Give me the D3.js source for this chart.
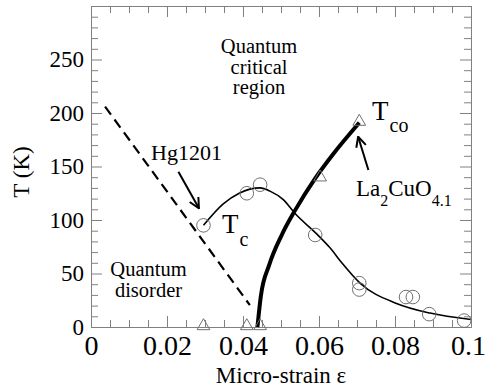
<!DOCTYPE html>
<html>
<head>
<meta charset="utf-8">
<script src="https://cdn.jsdelivr.net/npm/d3@7"></script>
<style>
  body { margin: 0; background: #fff; }
  svg { display: block; font-family: "Liberation Serif", "Times New Roman", serif; }
  .frame path.domain { stroke: #808080; }
  .frame line { stroke: #808080; }
  .frame text { fill: #000; }
</style>
</head>
<body>
<div id="chart"></div>
<script>
// measured Tc (circles)
const tcStrain = [0.0296, 0.041, 0.0445, 0.059, 0.0706, 0.0706, 0.0829, 0.0847, 0.089, 0.0982];
const tcTemp = [95, 125, 133, 86, 41, 35, 28, 28, 12, 6];

// measured Tco (triangles)
const tcoStrain = [0.0296, 0.041, 0.0445, 0.0603, 0.0706];
const tcoTemp = [0, 0, 0, 139, 191];

// Tc guide curve
const tcCurveStrain = [0.0296, 0.0348, 0.039, 0.0445, 0.0471, 0.0506, 0.0537, 0.0594, 0.0629, 0.066, 0.0708, 0.0804, 0.0892, 0.1];
const tcCurveTemp = [95, 115, 125, 130, 127, 119, 106, 87, 74, 60, 41, 22, 13, 7];

// Tco guide curve (thick)
const tcoCurveStrain = [0.0438, 0.0447, 0.0469, 0.0502, 0.0537, 0.059, 0.0638, 0.0706];
const tcoCurveTemp = [0, 29, 58, 86, 109, 139, 162, 191];

// dashed quantum-disorder border
const dashStrain = [0.0037, 0.0418];
const dashTemp = [206, 20.5];

// arrows: [tail, tip]
const hgArrow = [[0.023, 145], [0.0284, 111]];
const laArrow = [[0.073, 146.7], [0.0703, 177.8]];

const xMajor = [0, 0.02, 0.04, 0.06, 0.08, 0.1];
const xLabels = ['0', '0.02', '0.04', '0.06', '0.08', '0.1'];
const yMajor = [0, 50, 100, 150, 200, 250, 300];
const yLabels = ['0', '50', '100', '150', '200', '250', ''];

const width = 488;
const height = 391;
const padL = 91, padR = 471, padT = 6, padB = 327;

const x = d3.scaleLinear().domain([0, 0.1]).range([padL, padR]);
const y = d3.scaleLinear().domain([0, 300]).range([padB, padT]);

const svg = d3.select('#chart').append('svg')
  .attr('width', width)
  .attr('height', height);

svg.append('rect').attr('width', width).attr('height', height).attr('fill', '#fff');

const xMinor = d3.range(0, 0.1001, 0.005).filter(v => !xMajor.some(m => Math.abs(m - v) < 1e-6));
const yMinor = d3.range(0, 301, 10).filter(v => v % 50 !== 0);

// axes (ticks point inward)
const fmtX = v => xLabels[xMajor.findIndex(m => Math.abs(m - v) < 1e-6)];
const fmtY = v => yLabels[yMajor.indexOf(v)];

svg.append('g').attr('class', 'frame')
  .attr('transform', `translate(0,${padB})`)
  .call(d3.axisBottom(x).tickValues(xMajor).tickFormat(fmtX).tickSize(-11).tickSizeOuter(0).tickPadding(8))
  .call(g => g.selectAll('text').attr('font-size', 28).attr('font-family', 'Liberation Serif, serif'))
  .call(g => g.selectAll('.tick:last-of-type text').attr('dx', -3));
svg.append('g').attr('class', 'frame')
  .attr('transform', `translate(0,${padB})`)
  .call(d3.axisBottom(x).tickValues(xMinor).tickFormat('').tickSize(-7).tickSizeOuter(0));

svg.append('g').attr('class', 'frame')
  .attr('transform', `translate(0,${padT})`)
  .call(d3.axisTop(x).tickValues(xMajor).tickFormat('').tickSize(-11).tickSizeOuter(0));
svg.append('g').attr('class', 'frame')
  .attr('transform', `translate(0,${padT})`)
  .call(d3.axisTop(x).tickValues(xMinor).tickFormat('').tickSize(-7).tickSizeOuter(0));

svg.append('g').attr('class', 'frame')
  .attr('transform', `translate(${padL},0)`)
  .call(d3.axisLeft(y).tickValues(yMajor).tickFormat(fmtY).tickSize(-11).tickSizeOuter(0).tickPadding(7))
  .call(g => g.selectAll('text').attr('font-size', 23).attr('font-family', 'Liberation Serif, serif'));
svg.append('g').attr('class', 'frame')
  .attr('transform', `translate(${padL},0)`)
  .call(d3.axisLeft(y).tickValues(yMinor).tickFormat('').tickSize(-7).tickSizeOuter(0));

svg.append('g').attr('class', 'frame')
  .attr('transform', `translate(${padR},0)`)
  .call(d3.axisRight(y).tickValues(yMajor).tickFormat('').tickSize(-11).tickSizeOuter(0));
svg.append('g').attr('class', 'frame')
  .attr('transform', `translate(${padR},0)`)
  .call(d3.axisRight(y).tickValues(yMinor).tickFormat('').tickSize(-7).tickSizeOuter(0));

// axis titles
svg.append('text')
  .attr('x', (padL + padR) / 2)
  .attr('y', 383)
  .attr('text-anchor', 'middle')
  .attr('font-size', 23)
  .text('Micro-strain ε');

svg.append('text')
  .attr('transform', 'translate(29,172) rotate(-90)')
  .attr('text-anchor', 'middle')
  .attr('font-size', 23)
  .text('T (K)');

// lines
const line = d3.line().x(d => x(d[0])).y(d => y(d[1])).curve(d3.curveMonotoneX);

svg.append('path')
  .datum(dashStrain.map((v, i) => [v, dashTemp[i]]))
  .attr('d', d3.line().x(d => x(d[0])).y(d => y(d[1])))
  .attr('fill', 'none')
  .attr('stroke', '#000')
  .attr('stroke-width', 2.2)
  .attr('stroke-dasharray', '10,6');

svg.append('path')
  .datum(tcCurveStrain.map((v, i) => [v, tcCurveTemp[i]]))
  .attr('d', line)
  .attr('fill', 'none')
  .attr('stroke', '#000')
  .attr('stroke-width', 1.6);

svg.append('path')
  .datum(tcoCurveStrain.map((v, i) => [v, tcoCurveTemp[i]]))
  .attr('d', line)
  .attr('fill', 'none')
  .attr('stroke', '#000')
  .attr('stroke-width', 4);

// markers
svg.append('g').selectAll('circle')
  .data(tcStrain.map((v, i) => [v, tcTemp[i]]))
  .join('circle')
  .attr('cx', d => x(d[0]))
  .attr('cy', d => y(d[1]))
  .attr('r', 6.8)
  .attr('fill', 'none')
  .attr('stroke', '#707070')
  .attr('stroke-width', 1);

const tri = d3.symbol().type(d3.symbolTriangle).size(70);
svg.append('g').selectAll('path')
  .data(tcoStrain.map((v, i) => [v, tcoTemp[i]]))
  .join('path')
  .attr('d', tri)
  .attr('transform', d => `translate(${x(d[0])},${y(d[1]) - 1})`)
  .attr('fill', 'none')
  .attr('stroke', '#707070')
  .attr('stroke-width', 1);

// arrows
svg.append('defs').append('marker')
  .attr('id', 'head')
  .attr('viewBox', '0 0 12 12')
  .attr('refX', 11)
  .attr('refY', 6)
  .attr('markerWidth', 12)
  .attr('markerHeight', 12)
  .attr('markerUnits', 'userSpaceOnUse')
  .attr('orient', 'auto')
  .append('path')
  .attr('d', 'M1,1 L11,6 L1,11')
  .attr('fill', 'none')
  .attr('stroke', '#000')
  .attr('stroke-width', 2);

[hgArrow, laArrow].forEach(a => {
  svg.append('line')
    .attr('x1', x(a[0][0])).attr('y1', y(a[0][1]))
    .attr('x2', x(a[1][0])).attr('y2', y(a[1][1]))
    .attr('stroke', '#000')
    .attr('stroke-width', 2)
    .attr('marker-end', 'url(#head)');
});

// annotations
const crit = svg.append('text').attr('text-anchor', 'middle').attr('font-size', 20.5);
['Quantum', 'critical', 'region'].forEach((t, i) => {
  crit.append('tspan').attr('x', 259).attr('y', 53 + i * 20.5).text(t);
});

const dis = svg.append('text').attr('text-anchor', 'middle').attr('font-size', 20.5);
['Quantum', 'disorder'].forEach((t, i) => {
  dis.append('tspan').attr('x', 148.5).attr('y', 276 + i * 21).text(t);
});

svg.append('text').attr('x', 151).attr('y', 160).attr('font-size', 22).text('Hg1201');

const tc = svg.append('text').attr('x', 222).attr('y', 233).attr('font-size', 27);
tc.append('tspan').text('T');
tc.append('tspan').attr('font-size', 20).attr('dy', 13).attr('dx', 1).text('c');

const tco = svg.append('text').attr('x', 372).attr('y', 120).attr('font-size', 27);
tco.append('tspan').text('T');
tco.append('tspan').attr('font-size', 20).attr('dy', 12).attr('dx', 1).text('co');

const la = svg.append('text').attr('x', 356).attr('y', 196).attr('font-size', 23);
la.append('tspan').text('La');
la.append('tspan').attr('font-size', 16).attr('dy', 10).text('2');
la.append('tspan').attr('dy', -10).text('CuO');
la.append('tspan').attr('font-size', 16).attr('dy', 10).text('4.1');
</script>
</body>
</html>
